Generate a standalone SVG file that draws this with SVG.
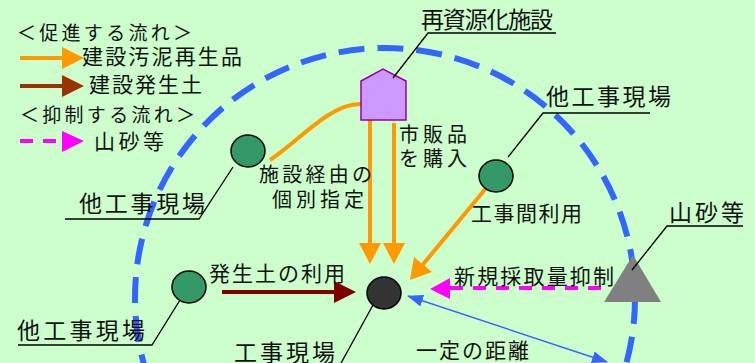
<svg xmlns="http://www.w3.org/2000/svg" width="755" height="363" viewBox="0 0 755 363">
<style>
text{font-family:"Noto Sans CJK JP","Noto Sans",sans-serif;fill:#111;}
.t19{font-size:19px;}
.t20{font-size:20px;}
.t21{font-size:21px;}
.t23{font-size:23px;}
.green{fill:#339966;stroke:#000;stroke-width:1.5;}
.lead{fill:none;stroke:#000;stroke-width:1.3;}
.or{fill:none;stroke:#FF9900;stroke-width:4;}
.orh{fill:#FF9900;}
</style>
<defs>
<marker id="bh" viewBox="0 0 16 12" refX="15" refY="6" markerWidth="16" markerHeight="12" markerUnits="userSpaceOnUse" orient="auto-start-reverse">
<path d="M0,0 L16,6 L0,12 Z" fill="#3366FF"/>
</marker>
</defs>
<rect width="755" height="363" fill="#CCFFCC"/>

<g id="boundary">
<circle cx="385" cy="298" r="250" fill="none" stroke="#3366FF" stroke-width="6" stroke-dasharray="26 13"/>
</g>

<g id="legend">
<text class="t19" x="17" y="40" textLength="175" lengthAdjust="spacing">＜促進する流れ＞</text>
<line x1="20" y1="58" x2="64" y2="58" stroke="#FF9900" stroke-width="4"/>
<polygon points="62,47 84,58 62,69" fill="#FF9900"/>
<text class="t21" x="82" y="64" textLength="160" lengthAdjust="spacing">建設汚泥再生品</text>
<line x1="20" y1="86" x2="64" y2="86" stroke="#993300" stroke-width="4"/>
<polygon points="62,75 84,86 62,97" fill="#993300"/>
<text class="t21" x="89" y="92" textLength="113" lengthAdjust="spacing">建設発生土</text>
<text class="t19" x="20" y="122" textLength="175" lengthAdjust="spacing">＜抑制する流れ＞</text>
<line x1="20" y1="141" x2="60" y2="141" stroke="#FF00FF" stroke-width="4" stroke-dasharray="13 10"/>
<polygon points="62,131 84,141 62,152" fill="#FF00FF"/>
<text class="t21" x="94" y="149" textLength="70" lengthAdjust="spacing">山砂等</text>
</g>

<g id="connectors">
<path class="or" d="M270,160 C300,140 330,104 360,104 Q370,104 370,116 L370,245"/>
<polygon class="orh" points="359,243 381,243 370,264"/>
<line class="or" x1="394" y1="123" x2="394" y2="245"/>
<polygon class="orh" points="383,243 405,243 394,264"/>
<line class="or" x1="487" y1="187" x2="420" y2="268"/>
<polygon class="orh" points="414,257 432,272 410,280"/>
<line x1="222" y1="292" x2="336" y2="292" stroke="#800000" stroke-width="4"/>
<polygon points="334,281 356,292 334,303" fill="#800000"/>
<line x1="450" y1="288" x2="606" y2="288" stroke="#FF00FF" stroke-width="4" stroke-dasharray="13 10"/>
<polygon points="450,278 430,289 450,299" fill="#FF00FF"/>
<line x1="408" y1="296" x2="607" y2="362" stroke="#3366FF" stroke-width="1.5" marker-start="url(#bh)" marker-end="url(#bh)"/>
</g>

<g id="recycle-facility">
<polygon points="361,81 383,69 406,81 406,120 361,120" fill="#CC99FF" stroke="#990099" stroke-width="1.5"/>
<polyline class="lead" points="393,78 428,33 556,33"/>
<text class="t23" x="421" y="28" textLength="132" lengthAdjust="spacing">再資源化施設</text>
</g>

<g id="site-a">
<ellipse class="green" cx="248" cy="151" rx="17" ry="16"/>
<polyline class="lead" points="233,167 199,219 65,219"/>
<text class="t23" x="79" y="212" textLength="126" lengthAdjust="spacing">他工事現場</text>
</g>

<g id="site-b">
<ellipse class="green" cx="496" cy="176" rx="17" ry="16"/>
<polyline class="lead" points="508,157 543,113 650,113"/>
<text class="t23" x="546" y="105" textLength="125" lengthAdjust="spacing">他工事現場</text>
</g>

<g id="site-c">
<ellipse class="green" cx="189" cy="287" rx="17" ry="16"/>
<polyline class="lead" points="180,300 152,345 18,345"/>
<text class="t23" x="17" y="339" textLength="128" lengthAdjust="spacing">他工事現場</text>
</g>

<g id="mountain">
<polygon points="633,255 661,302 604,302" fill="#808080"/>
<polyline class="lead" points="632,270 667,226 743,226"/>
<text class="t23" x="669" y="221" textLength="75" lengthAdjust="spacing">山砂等</text>
</g>

<g id="main-site">
<ellipse cx="384" cy="293" rx="17" ry="16" fill="#333333" stroke="#000" stroke-width="1.5"/>
<line class="lead" x1="373" y1="305" x2="340" y2="365"/>
<text class="t23" x="234" y="361" textLength="101" lengthAdjust="spacing">工事現場</text>
</g>

<g id="labels">
<text class="t20" x="399" y="142" textLength="68" lengthAdjust="spacing">市販品</text>
<text class="t20" x="399" y="166" textLength="68" lengthAdjust="spacing">を購入</text>
<text class="t20" x="259" y="182" textLength="113" lengthAdjust="spacing">施設経由の</text>
<text class="t20" x="272" y="207" textLength="92" lengthAdjust="spacing">個別指定</text>
<text class="t21" x="471" y="221" textLength="111" lengthAdjust="spacing">工事間利用</text>
<text class="t21" x="209" y="281" textLength="136" lengthAdjust="spacing">発生土の利用</text>
<text class="t21" x="454" y="284" textLength="160" lengthAdjust="spacing">新規採取量抑制</text>
<text class="t21" x="416" y="358" textLength="113" lengthAdjust="spacing">一定の距離</text>
</g>
</svg>
